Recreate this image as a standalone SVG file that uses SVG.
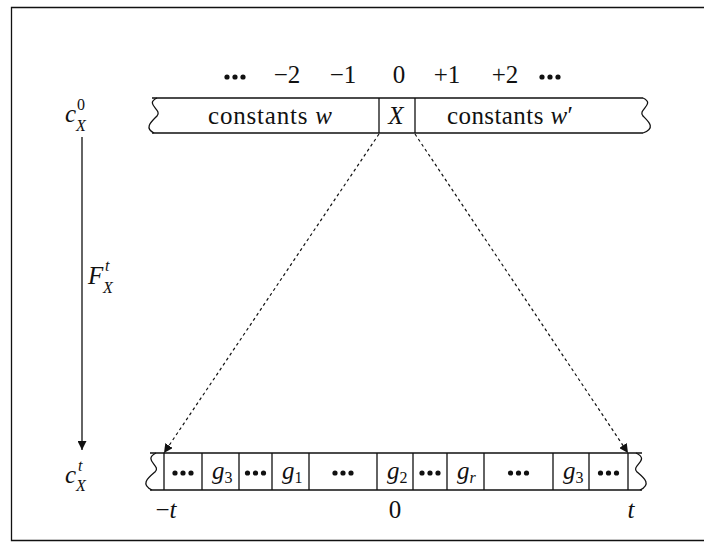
<svg xmlns="http://www.w3.org/2000/svg" width="704" height="542" viewBox="0 0 704 542" font-family="'Liberation Serif', 'DejaVu Serif', serif">
<style>
.ln{fill:none;stroke:#111;stroke-width:1.3}
.t{font-family:'Liberation Serif','DejaVu Serif',serif;fill:#111;font-size:25px}
.i{font-style:italic}
.s{font-size:16px}
.d{fill:#111}
.dash{fill:none;stroke:#111;stroke-width:1.2;stroke-dasharray:3 3}
</style>
<defs>
<marker id="ah" viewBox="0 0 10 10" refX="10" refY="5" markerWidth="9" markerHeight="9" markerUnits="userSpaceOnUse" orient="auto">
<path d="M0,0 L10,5 L0,10 Z" fill="#111"/>
</marker>
<g id="dots3"><circle cx="-8" cy="0" r="2.6"/><circle cx="0" cy="0" r="2.6"/><circle cx="8" cy="0" r="2.6"/></g>
</defs>
<rect width="704" height="542" fill="#fff"/>
<g id="frame"><path class="ln" d="M704,7.5 H11.5 V540.5 H704"/></g>

<g id="top-indices" class="t">
<use href="#dots3" x="235" y="77" class="d"/>
<text x="287" y="83" text-anchor="middle">−2</text>
<text x="343" y="83" text-anchor="middle">−1</text>
<text x="399" y="83" text-anchor="middle">0</text>
<text x="447" y="83" text-anchor="middle">+1</text>
<text x="505" y="83" text-anchor="middle">+2</text>
<use href="#dots3" x="550" y="77" class="d"/>
</g>

<g id="label-c0" class="t">
<text x="65" y="122" class="i">c</text>
<text x="77" y="110" class="s">0</text>
<text x="76" y="131" class="s i">X</text>
</g>

<g id="top-tape">
<path class="ln" d="M152,98 H643 M152,133 H643"/>
<path class="ln" d="M157,98 C144,104 163,110 157,116 C151,122 144,128 154,133"/>
<path class="ln" d="M643,98 C656,104 637,110 643,116 C649,122 656,128 643,133"/>
<path class="ln" d="M379,98 V133 M415,98 V133"/>
<text class="t" x="208" y="124" textLength="124" lengthAdjust="spacing">constants <tspan class="i">w</tspan></text>
<text class="t i" x="396" y="124" text-anchor="middle">X</text>
<text class="t" x="447" y="124" textLength="126" lengthAdjust="spacing">constants <tspan class="i">w</tspan>′</text>
</g>

<g id="label-F" class="t">
<text x="88" y="284" class="i">F</text>
<text x="105" y="271" class="s i">t</text>
<text x="103" y="293" class="s i">X</text>
</g>

<g id="label-ct" class="t">
<text x="65" y="483" class="i">c</text>
<text x="78" y="471" class="s i">t</text>
<text x="76" y="491" class="s i">X</text>
</g>

<g id="bottom-tape">
<path class="ln" d="M150,453 H642 M150,490 H642"/>
<path class="ln" d="M156,453 C142,460 162,466 155,472 C148,478 140,484 152,490"/>
<path class="ln" d="M636,453 C651,460 630,466 637,472 C644,478 652,484 640,490"/>
<path class="ln" d="M164,453 V490 M202,453 V490 M239,453 V490 M272,453 V490 M309,453 V490 M377,453 V490 M413,453 V490 M447,453 V490 M484,453 V490 M553,453 V490 M589,453 V490 M628,453 V490"/>
<g class="d">
<use href="#dots3" x="183" y="473"/>
<use href="#dots3" x="255.5" y="473"/>
<use href="#dots3" x="343" y="473"/>
<use href="#dots3" x="430" y="473"/>
<use href="#dots3" x="518.5" y="473"/>
<use href="#dots3" x="608.5" y="473"/>
</g>
<text class="t" x="212" y="479"><tspan class="i">g</tspan><tspan class="s" dy="4">3</tspan></text>
<text class="t" x="282" y="479"><tspan class="i">g</tspan><tspan class="s" dy="4">1</tspan></text>
<text class="t" x="387" y="479"><tspan class="i">g</tspan><tspan class="s" dy="4">2</tspan></text>
<text class="t" x="457" y="479"><tspan class="i">g</tspan><tspan class="s i" dy="4">r</tspan></text>
<text class="t" x="563" y="479"><tspan class="i">g</tspan><tspan class="s" dy="4">3</tspan></text>
</g>

<g id="bottom-indices" class="t">
<text x="166" y="518" text-anchor="middle">−<tspan class="i">t</tspan></text>
<text x="395" y="518" text-anchor="middle">0</text>
<text x="631" y="518" text-anchor="middle" class="i">t</text>
</g>

<g id="connectors">
<line class="ln" x1="82" y1="137" x2="82" y2="450" marker-end="url(#ah)"/>
<line class="dash" x1="379" y1="134" x2="164" y2="453" marker-end="url(#ah)"/>
<line class="dash" x1="415" y1="134" x2="628" y2="453" marker-end="url(#ah)"/>
</g>
</svg>
